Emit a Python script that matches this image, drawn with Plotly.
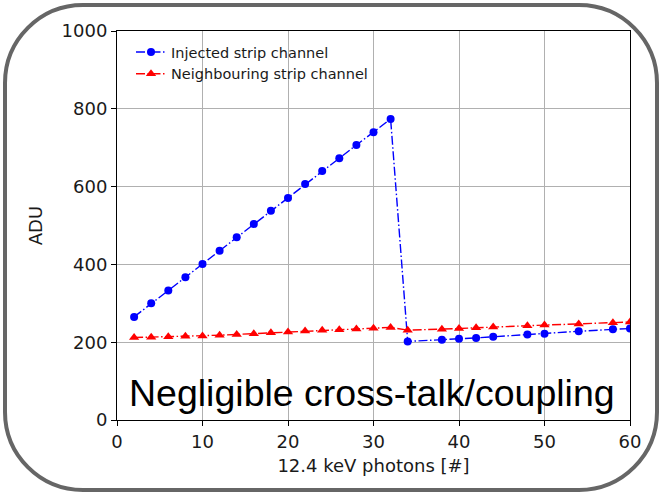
import plotly.graph_objects as go

# ---- data ----
x_injected = [2, 4, 6, 8, 10, 12, 14, 16, 18, 20, 22, 24, 26, 28, 30, 32,
              34, 38, 40, 42, 44, 48, 50, 54, 58, 60]
adu_injected = [265, 300, 333, 367, 401, 435, 470, 504, 538, 571, 607, 640, 673, 707, 740, 774,
                202, 206, 209, 211, 214, 220, 222, 228, 233, 235]
x_neighbour = [2, 4, 6, 8, 10, 12, 14, 16, 18, 20, 22, 24, 26, 28, 30, 32,
               34, 38, 40, 42, 44, 48, 50, 54, 58, 60]
adu_neighbour = [212, 213, 214, 215, 216, 218, 220, 222, 224, 226, 229, 231, 232, 234, 236, 238,
                 231, 233, 235, 237, 239, 242, 244, 247, 250, 252]
x_ticks = [0, 10, 20, 30, 40, 50, 60]
y_ticks = [0, 200, 400, 600, 800, 1000]
series_names = ["Injected strip channel", "Neighbouring strip channel"]
x_title = "12.4 keV photons [#]"
y_title = "ADU"
note_text = "Negligible cross-talk/coupling"

W, H = 660, 493
PL, PR, PT, PB = 117, 630, 31, 420  # plot area in window pixels
L, T = PL, PT
R, B = W - PR, H - PB
pw, ph = PR - PL, PB - PT

dash = "9px,2.5px,1.5px,2.5px"

fig = go.Figure()
fig.add_trace(go.Scatter(
    x=x_injected, y=adu_injected, name=series_names[0], mode="lines+markers",
    line=dict(color="#0000ff", width=1.4, dash=dash),
    marker=dict(symbol="circle", size=8, color="#0000ff"),
))
fig.add_trace(go.Scatter(
    x=x_neighbour, y=adu_neighbour, name=series_names[1], mode="lines+markers",
    line=dict(color="#ff0000", width=1.4, dash=dash),
    marker=dict(symbol="triangle-up", size=9, color="#ff0000"),
))

axis_common = dict(
    showgrid=True, gridcolor="#b0b0b0", gridwidth=1.2,
    showline=True, linecolor="black", linewidth=1, mirror=True,
    ticks="outside", ticklen=5, tickcolor="black", tickwidth=1,
    zeroline=False,
    tickfont=dict(family="DejaVu Sans", size=18, color="#1a1a1a"),
    title_font=dict(family="DejaVu Sans", size=18, color="#1a1a1a"),
)
fig.update_xaxes(range=[0, 60], tickvals=x_ticks, title_text=x_title,
                 title_standoff=8, **axis_common)
fig.update_yaxes(range=[0, 1000], tickvals=y_ticks, title_text=y_title,
                 title_standoff=14, **axis_common)


def px_x(px):
    return (px - PL) / pw


def px_y(py):
    return (PB - py) / ph


# rounded frame around the whole picture (window pixel coordinates)
x0, x1, y0, y1, r = 5, 657, 5, 490, 78
k = 0.5523 * r
path = (
    f"M {px_x(x0 + r)},{px_y(y0)} L {px_x(x1 - r)},{px_y(y0)} "
    f"C {px_x(x1 - r + k)},{px_y(y0)} {px_x(x1)},{px_y(y0 + r - k)} {px_x(x1)},{px_y(y0 + r)} "
    f"L {px_x(x1)},{px_y(y1 - r)} "
    f"C {px_x(x1)},{px_y(y1 - r + k)} {px_x(x1 - r + k)},{px_y(y1)} {px_x(x1 - r)},{px_y(y1)} "
    f"L {px_x(x0 + r)},{px_y(y1)} "
    f"C {px_x(x0 + r - k)},{px_y(y1)} {px_x(x0)},{px_y(y1 - r + k)} {px_x(x0)},{px_y(y1 - r)} "
    f"L {px_x(x0)},{px_y(y0 + r)} "
    f"C {px_x(x0)},{px_y(y0 + r - k)} {px_x(x0 + r - k)},{px_y(y0)} {px_x(x0 + r)},{px_y(y0)} Z"
)
fig.add_shape(type="path", path=path, xref="paper", yref="paper",
              line=dict(color="#666666", width=4), layer="above")

fig.add_annotation(
    text=note_text, xref="paper", yref="paper",
    x=px_x(372), y=px_y(393), xanchor="center", yanchor="middle",
    showarrow=False,
    font=dict(family="Liberation Sans", size=37.5, color="black"),
)

fig.update_layout(
    width=W, height=H,
    margin=dict(l=L, r=R, t=T, b=B),
    paper_bgcolor="white", plot_bgcolor="white",
    showlegend=True,
    legend=dict(
        x=px_x(131), y=px_y(36), xanchor="left", yanchor="top",
        bgcolor="rgba(0,0,0,0)", borderwidth=0,
        font=dict(family="DejaVu Sans", size=14.5, color="#1a1a1a"),
        itemwidth=30, tracegroupgap=0,
    ),
)

fig.write_html(
    "out.html",
    config={"displayModeBar": False},
    post_script="document.body.style.margin='0px';document.body.style.overflow='hidden';",
)
